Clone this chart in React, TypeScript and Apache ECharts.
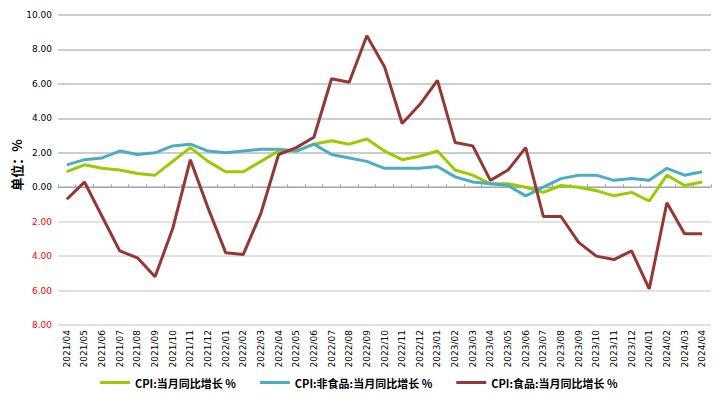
import React, { useEffect, useRef } from "react";
import * as echarts from "echarts";

const categories = [
  "2021/04","2021/05","2021/06","2021/07","2021/08","2021/09","2021/10","2021/11","2021/12",
  "2022/01","2022/02","2022/03","2022/04","2022/05","2022/06","2022/07","2022/08","2022/09","2022/10","2022/11","2022/12",
  "2023/01","2023/02","2023/03","2023/04","2023/05","2023/06","2023/07","2023/08","2023/09","2023/10","2023/11","2023/12",
  "2024/01","2024/02","2024/03","2024/04",
];

const cpiTotal = [
  0.9, 1.3, 1.1, 1.0, 0.8, 0.7, 1.5, 2.3, 1.5,
  0.9, 0.9, 1.5, 2.1, 2.1, 2.5, 2.7, 2.5, 2.8, 2.1, 1.6, 1.8,
  2.1, 1.0, 0.7, 0.2, 0.2, 0.0, -0.3, 0.1, 0.0, -0.2, -0.5, -0.3,
  -0.8, 0.7, 0.1, 0.3,
];

const cpiNonFood = [
  1.3, 1.6, 1.7, 2.1, 1.9, 2.0, 2.4, 2.5, 2.1,
  2.0, 2.1, 2.2, 2.2, 2.1, 2.5, 1.9, 1.7, 1.5, 1.1, 1.1, 1.1,
  1.2, 0.6, 0.3, 0.2, 0.1, -0.5, 0.0, 0.5, 0.7, 0.7, 0.4, 0.5,
  0.4, 1.1, 0.7, 0.9,
];

const cpiFood = [
  -0.7, 0.3, -1.7, -3.7, -4.1, -5.2, -2.4, 1.6, -1.2,
  -3.8, -3.9, -1.5, 1.9, 2.3, 2.9, 6.3, 6.1, 8.8, 7.0, 3.7, 4.8,
  6.2, 2.6, 2.4, 0.4, 1.0, 2.3, -1.7, -1.7, -3.2, -4.0, -4.2, -3.7,
  -5.9, -0.9, -2.7, -2.7,
];

const seriesNames = [
  "CPI:当月同比增长 %",
  "CPI:非食品:当月同比增长 %",
  "CPI:食品:当月同比增长 %",
];
const seriesColors = ["#99cc00", "#4bacc6", "#953735"];

const yAxisTitle = "单位：%";

export default function App() {
  const ref = useRef<HTMLDivElement>(null);
  useEffect(() => {
    if (!ref.current) return;
    const chart = echarts.init(ref.current, null, { renderer: "svg" });
    const dataSets = [cpiTotal, cpiNonFood, cpiFood];
    chart.setOption({
      animation: false,
      backgroundColor: "#ffffff",
      textStyle: { fontFamily: "'Noto Sans CJK SC', 'DejaVu Sans', sans-serif" },
      grid: { left: 58, right: 17, top: 15, bottom: 74, containLabel: false },
      legend: {
        bottom: 6,
        left: 95,
        icon: "rect",
        itemWidth: 30,
        itemHeight: 3,
        itemGap: 24,
        textStyle: { fontSize: 11, fontWeight: "bold", color: "#000" },
        data: seriesNames,
      },
      graphic: [
        {
          type: "text",
          x: 16,
          y: 165,
          rotation: Math.PI / 2,
          style: {
            text: yAxisTitle,
            fontSize: 13,
            fontWeight: "bold",
            fill: "#000",
            align: "center",
            verticalAlign: "middle",
            fontFamily: "'Noto Sans CJK SC', sans-serif",
          },
        },
      ],
      xAxis: [
        {
          type: "category",
          data: categories,
          boundaryGap: true,
          position: "bottom",
          axisLine: { show: false, onZero: false },
          axisTick: { show: false },
          axisLabel: {
            rotate: 90,
            interval: 0,
            fontSize: 9,
            margin: 5,
            color: "#000",
            fontFamily: "'DejaVu Sans', sans-serif",
          },
        },
        {
          type: "category",
          data: categories,
          boundaryGap: true,
          position: "top",
          axisLine: { show: true, onZero: true, lineStyle: { color: "#a6a6a6", width: 1 } },
          axisTick: { show: true, length: 3, interval: 0, lineStyle: { color: "#a6a6a6" } },
          axisLabel: { show: false },
        },
      ],
      yAxis: {
        type: "value",
        min: -8,
        max: 10,
        interval: 2,
        axisLine: { show: false },
        axisTick: { show: false },
        axisLabel: {
          fontSize: 9,
          margin: 6,
          fontFamily: "'DejaVu Sans', sans-serif",
          formatter: (v: number) => Math.abs(v).toFixed(2),
          color: (v: any) => (Number(v) < 0 ? "#ff0000" : "#000000"),
        },
        splitLine: {
          show: true,
          lineStyle: {
            color: ["#d9d9d9", "#d9d9d9", "#d9d9d9", "#d9d9d9", "#bdbdbd", "#bdbdbd", "#bdbdbd", "#bdbdbd", "#bdbdbd", "#bdbdbd"],
            width: 1.5,
          },
        },
      },
      series: dataSets.map((d, i) => ({
        name: seriesNames[i],
        type: "line",
        data: d,
        xAxisIndex: 0,
        symbol: "none",
        lineStyle: { width: 3, color: seriesColors[i] },
        itemStyle: { color: seriesColors[i] },
        z: 3 + i,
      })),
    });
    return () => chart.dispose();
  }, []);
  return <div ref={ref} style={{ width: 728, height: 399, margin: -8 }} />;
}
